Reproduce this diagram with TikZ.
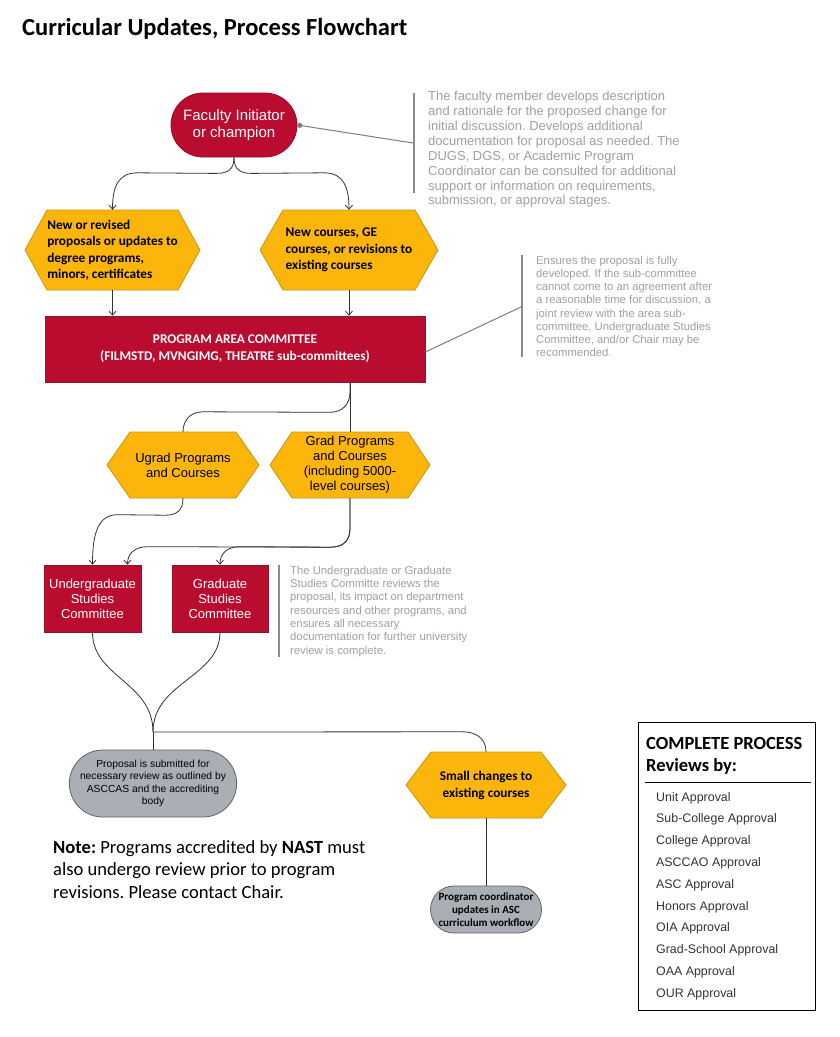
\documentclass[tikz,border=0pt]{standalone}
\usepackage{fontspec}
\setmainfont{Carlito}
\newfontfamily\arialf{Liberation Sans}
\usetikzlibrary{shapes.misc,arrows.meta,calc}
\definecolor{crim}{HTML}{BA0C2F}
\definecolor{crimdark}{HTML}{96102A}
\definecolor{hexfill}{HTML}{FCB50B}
\definecolor{hexline}{HTML}{C8960C}
\definecolor{stadfill}{HTML}{A9AFB5}
\definecolor{stadline}{HTML}{5F656B}
\definecolor{annottext}{HTML}{A0A0A0}
\definecolor{annotbar}{HTML}{8C8C8C}
\definecolor{connc}{HTML}{333333}
\newcommand\hexshape[5]{%
  \filldraw[fill=hexfill,draw=hexline,line width=0.8pt]
  ({#1-#3/2},#2) -- ({#1-#3/2+#5},{#2-#4/2}) -- ({#1+#3/2-#5},{#2-#4/2}) --
  ({#1+#3/2},#2) -- ({#1+#3/2-#5},{#2+#4/2}) -- ({#1-#3/2+#5},{#2+#4/2}) -- cycle;}
\frenchspacing
\begin{document}
\begin{tikzpicture}[x=1pt,y=-1pt,
  redbox/.style={rectangle,fill=crim,draw=crimdark,line width=0.6pt,text=white,inner sep=0pt,align=center},
  stad/.style={rounded rectangle,line width=0.8pt,inner sep=1pt,align=center},
  hexbox/.style={rectangle,inner sep=0pt},
  conn/.style={draw=connc,line width=0.8pt},
  arr/.style={conn,-{Straight Barb[length=4pt,width=7pt]}},
  bar/.style={draw=annotbar,line width=2.5pt},
  annotline/.style={draw=annotbar!90!black,line width=1pt},
  annot/.style={text=annottext,inner sep=0pt,align=left,anchor=north west}]
\useasboundingbox[fill=white] (0,0) rectangle (840,1037);

% title
\node[anchor=west,inner sep=0pt,font=\bfseries\fontsize{24.5}{28}\selectfont] (title) at (22,29) {Curricular Updates, Process Flowchart};

% faculty initiator
\node[stad,fill=crim,draw=crimdark,text=white,minimum width=128,minimum height=64,
  font=\arialf\fontsize{15}{16.7}\selectfont] (fac) at (234,125) {Faculty Initiator\\or champion};

% annotation 1
\draw[bar] (414,93) -- (414,193);
\coordinate (b1) at (413,143);
\node[annot,font=\arialf\fontsize{13}{14.9}\selectfont] (a1) at (428,91) {The faculty member develops description\\and rationale for the proposed change for\\initial discussion. Develops additional\\documentation for proposal as needed. The\\DUGS, DGS, or Academic Program\\Coordinator can be consulted for additional\\support or information on requirements,\\submission, or approval stages.};
\draw[annotline,{Circle[length=5pt]}-] (fac.east) -- (b1);

% first hexagons
\hexshape{112.5}{250}{175}{80}{22}
\node[hexbox,minimum width=175,minimum height=80,align=left,font=\bfseries\fontsize{13.3}{16.5}\selectfont] (h1) at (112.5,250) {New or revised\\proposals or updates to\\degree programs,\\minors, certificates};
\hexshape{349}{250}{178}{80}{23}
\node[hexbox,minimum width=178,minimum height=80,align=left,font=\bfseries\fontsize{13.3}{16.5}\selectfont] (h2) at (349,250) {New courses, GE\\courses, or revisions to\\existing courses};

\draw[arr] (fac.south) .. controls +(0,12) and +(12,0) .. ($(fac.south)+(-18,16)$)
  -- ($(h1.north)+(25,-37)$) .. controls +(-20,0) and +(0,-22) .. (h1.north);
\draw[arr] (fac.south) .. controls +(0,12) and +(-12,0) .. ($(fac.south)+(18,16)$)
  -- ($(h2.north)+(-25,-37)$) .. controls +(20,0) and +(0,-22) .. (h2.north);

% program area committee
\node[redbox,minimum width=380,minimum height=66,font=\bfseries\fontsize{13.3}{17}\selectfont] (pac) at (235,349) {PROGRAM AREA COMMITTEE\\(FILMSTD, MVNGIMG, THEATRE sub-committees)};
\draw[arr] (h1.south) -- (h1.south |- pac.north);
\draw[arr] (h2.south) -- (h2.south |- pac.north);

% annotation 2
\draw[bar] (522,255) -- (522,357);
\coordinate (b2) at (521,307);
\node[annot,font=\arialf\fontsize{11.3}{13.2}\selectfont] (a2) at (536,256) {Ensures the proposal is fully\\developed. If the sub-committee\\cannot come to an agreement after\\a reasonable time for discussion, a\\joint review with the area sub-\\committee, Undergraduate Studies\\Committee, and/or Chair may be\\recommended.};
\draw[annotline] ([yshift=-3pt]pac.east) -- (b2);

% ugrad / grad hexagons
\hexshape{183}{465}{152}{66}{23}
\node[hexbox,minimum width=152,minimum height=66,align=center,font=\arialf\fontsize{13}{15}\selectfont] (ugh) at (183,465) {Ugrad Programs\\and Courses};
\hexshape{350}{465}{160}{66}{22}
\node[hexbox,minimum width=160,minimum height=66,align=center,font=\arialf\fontsize{13}{15}\selectfont] (gh) at (350,465) {Grad Programs\\and Courses\\(including 5000-\\level courses)};

\coordinate (pacout) at (gh.north |- pac.south);
\draw[conn] (pacout) -- (gh.north);
\draw[conn] (pacout) -- ++(0,10) .. controls +(0,12) and +(12,0) .. ($(pacout)+(-20,30)$)
  -- ($(ugh.north)+(20,-20)$) .. controls +(-14,0) and +(0,-10) .. (ugh.north);

% committees
\node[redbox,minimum width=97,minimum height=67,font=\arialf\fontsize{13}{15}\selectfont] (ugc) at (92.5,598.5) {Undergraduate\\Studies\\Committee};
\node[redbox,minimum width=96,minimum height=67,font=\arialf\fontsize{13}{15}\selectfont] (gc) at (220,598.5) {Graduate\\Studies\\Committee};
\coordinate (ugcin) at ([xshift=35pt]ugc.north);

\draw[arr] (ugh.south) .. controls +(0,12) and +(12,0) .. ($(ugh.south)+(-18,17)$)
  -- ($(ugc.north)+(25,-50)$) .. controls +(-20,0) and +(0,-30) .. (ugc.north);
\draw[arr] (gh.south) -- ++(0,30) .. controls +(0,12) and +(14,0) .. ($(gh.south)+(-20,49)$)
  -- ($(ugcin)+(20,-18)$) .. controls +(-14,0) and +(0,-10) .. (ugcin);
\draw[arr] (gh.south) -- ++(0,30) .. controls +(0,12) and +(14,0) .. ($(gh.south)+(-20,49)$)
  -- ($(gc.north)+(20,-18)$) .. controls +(-14,0) and +(0,-10) .. (gc.north);

% annotation 3
\draw[bar] (279,565) -- (279,657);
\node[annot,font=\arialf\fontsize{11.3}{13.3}\selectfont] (a3) at (290,566) {The Undergraduate or Graduate\\Studies Committe reviews the\\proposal, its impact on department\\resources and other programs, and\\ensures all necessary\\documentation for further university\\review is complete.};

% proposal node
\node[stad,fill=stadfill,draw=stadline,minimum width=160,minimum height=67,
  font=\arialf\fontsize{10.3}{12.5}\selectfont] (prop) at (153,783.5) {Proposal is submitted for\\necessary review as outlined by\\ASCCAS and the accrediting\\body};
\coordinate (conv) at (153,732);
\draw[conn] (ugc.south) .. controls +(0,45) and +(0,-50) .. (conv);
\draw[conn] (gc.south) .. controls +(0,45) and +(0,-50) .. (conv);
\draw[conn] (conv) -- (prop.north);

% small changes
\hexshape{486}{785}{160}{66}{25}
\node[hexbox,minimum width=160,minimum height=66,align=center,font=\bfseries\fontsize{13.3}{17}\selectfont] (sh) at (486,785) {Small changes to\\existing courses};
\draw[conn] (conv) -- ($(sh.north)+(-24,-20)$) .. controls +(18,0) and +(0,-10) .. (sh.north);

\node[stad,fill=stadfill,draw=stadline,minimum width=113,minimum height=47,
  font=\bfseries\fontsize{11}{12.7}\selectfont] (co) at (486,909.5) {Program coordinator\\updates in ASC\\curriculum workflow};
\draw[conn] (sh.south) -- (co.north);

% note
\node[anchor=north west,inner sep=0pt,align=left,font=\fontsize{18.6}{22.5}\selectfont] (note) at (53,840) {\textbf{Note:} Programs accredited by \textbf{NAST} must\\also undergo review prior to program\\revisions. Please contact Chair.};

% complete process box
\node[draw=black,line width=1pt,minimum width=177,minimum height=288,inner sep=0pt] (box) at (726.5,866) {};
\node[anchor=north west,inner sep=0pt,align=left,font=\bfseries\fontsize{18.5}{22}\selectfont] (boxhead) at (646,737) {COMPLETE PROCESS\\Reviews by:};
\draw[line width=1pt] (645,782) -- (811,782);
\node[anchor=north west,inner sep=0pt,align=left,text=black!80,font=\arialf\fontsize{12.4}{21.8}\selectfont] (list) at (656,792) {Unit Approval\\Sub-College Approval\\College Approval\\ASCCAO Approval\\ASC Approval\\Honors Approval\\OIA Approval\\Grad-School Approval\\OAA Approval\\OUR Approval};
\end{tikzpicture}
\end{document}
